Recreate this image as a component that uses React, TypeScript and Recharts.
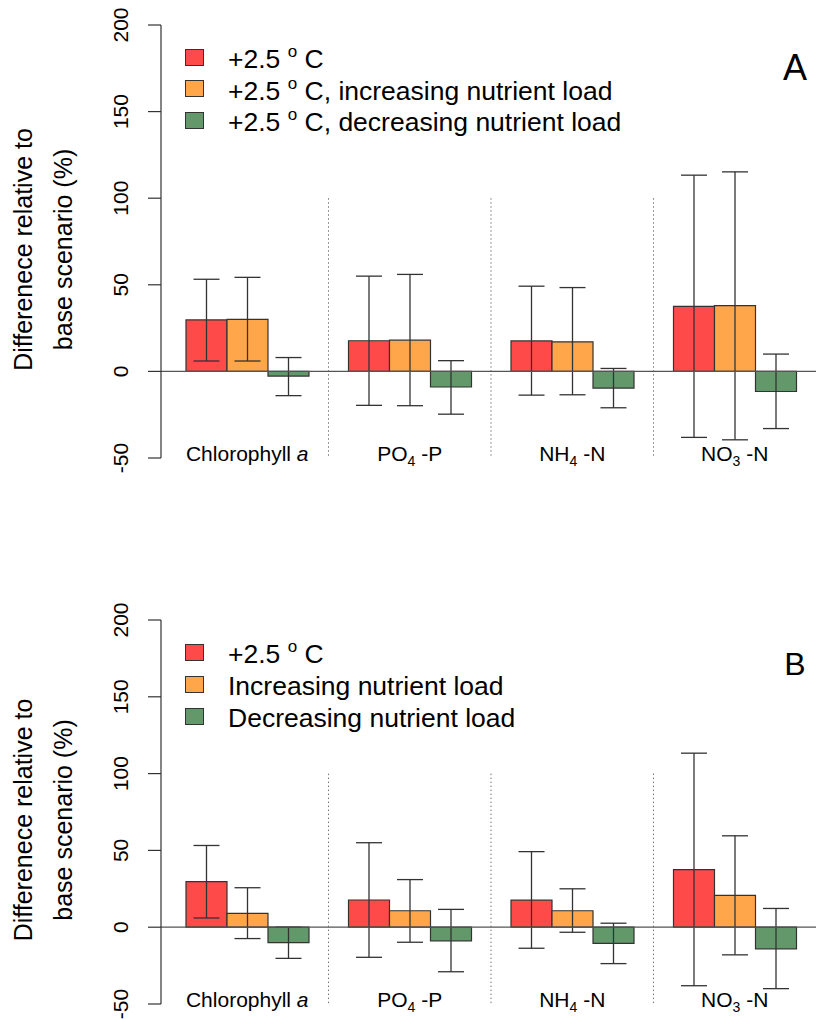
import React from "react";
import { BarChart, Bar, XAxis, YAxis, ErrorBar, ReferenceLine, Legend } from "recharts";

const font = "'Liberation Sans', Arial, Helvetica, sans-serif";
const colors = ["#ff4a4a", "#ffa64a", "#63996a"];

const categories = ["Chlorophyll a", "PO4 -P", "NH4 -N", "NO3 -N"];
const yTicks = [-50, 0, 50, 100, 150, 200];

// +2.5 °C only (same scenario in both panels)
const warm = [29.7, 17.7, 17.6, 37.5];
const warmLow = [6, -19.6, -13.7, -38.1];
const warmHigh = [53.2, 55, 49.2, 113.3];

// panel A: warming combined with nutrient load change
const warmIncA = [30, 18, 17.1, 38];
const warmIncALow = [6, -19.8, -13.5, -39.5];
const warmIncAHigh = [54.3, 56, 48.4, 115.2];
const warmDecA = [-2.7, -9, -9.6, -11.6];
const warmDecALow = [-14, -24.7, -21, -33];
const warmDecAHigh = [8, 6.2, 1.7, 10];

// panel B: nutrient load change alone
const incB = [9, 10.7, 10.7, 20.7];
const incBLow = [-7.4, -9.8, -3.3, -18];
const incBHigh = [25.7, 31, 25, 59.5];
const decB = [-10, -8.9, -10.5, -14.1];
const decBLow = [-20.3, -29, -23.7, -40];
const decBHigh = [0, 11.6, 2.6, 12.2];

const namesA = ["+2.5 °C", "+2.5 °C, increasing nutrient load", "+2.5 °C, decreasing nutrient load"];
const namesB = ["+2.5 °C", "Increasing nutrient load", "Decreasing nutrient load"];

type Series = { value: number[]; low: number[]; high: number[] };

const makeRows = (series: Series[]) =>
  categories.map((cat, i) => {
    const row: any = { cat };
    series.forEach((s, k) => {
      row[`v${k}`] = s.value[i];
      // ErrorBar wants distances below / above the bar value
      row[`e${k}`] = [s.value[i] - s.low[i], s.high[i] - s.value[i]];
    });
    return row;
  });

const rowsA = makeRows([
  { value: warm, low: warmLow, high: warmHigh },
  { value: warmIncA, low: warmIncALow, high: warmIncAHigh },
  { value: warmDecA, low: warmDecALow, high: warmDecAHigh },
]);
const rowsB = makeRows([
  { value: warm, low: warmLow, high: warmHigh },
  { value: incB, low: incBLow, high: incBHigh },
  { value: decB, low: decBLow, high: decBHigh },
]);

const CatTick = (props: any) => {
  const { x, y, payload } = props;
  const label: string = payload.value;
  const chem = /^([A-Z]+)(\d)(.*)$/.exec(label);
  let content: React.ReactNode = label;
  if (chem) {
    content = (
      <>
        <tspan>{chem[1]}</tspan>
        <tspan fontSize={14} dy={5}>{chem[2]}</tspan>
        <tspan dy={-5}>{chem[3]}</tspan>
      </>
    );
  } else if (label.endsWith(" a")) {
    content = (
      <>
        <tspan>{label.slice(0, -1)}</tspan>
        <tspan fontStyle="italic">a</tspan>
      </>
    );
  }
  return (
    <text x={x} y={y + 3} textAnchor="middle" fontSize={21} fill="#000" fontFamily={font}>
      {content}
    </text>
  );
};

const YTick = (props: any) => {
  const { x, y, payload } = props;
  return (
    <text transform={`translate(${x - 18},${y}) rotate(-90)`} textAnchor="middle" fontSize={21} fill="#000" fontFamily={font}>
      {payload.value}
    </text>
  );
};

const YTitle = (props: any) => {
  const vb = props.viewBox || { x: 0, y: 0, width: 161, height: 400 };
  const cy = vb.y + vb.height / 2 + 8;
  return (
    <g fontSize={25} fill="#000" fontFamily={font} textAnchor="middle">
      <text transform={`translate(32,${cy}) rotate(-90)`}>Differenece relative to</text>
      <text transform={`translate(72,${cy}) rotate(-90)`}>base scenario (%)</text>
    </g>
  );
};

const Degree = ({ text }: { text: string }) => {
  const parts = text.split("°C");
  if (parts.length < 2) return <>{text}</>;
  return (
    <>
      {parts[0]}
      <span style={{ fontSize: 17, position: "relative", top: -11 }}>o</span>
      {" C" + parts[1]}
    </>
  );
};

const LegendBox = ({ names, letter, letterSize, letterTop, rowHeight }: any) => (
  <div style={{ position: "relative", fontFamily: font, color: "#000" }}>
    {names.map((n: string, i: number) => (
      <div key={n} style={{ display: "flex", alignItems: "center", height: rowHeight }}>
        <div
          style={{
            width: 19,
            height: 17,
            background: colors[i],
            border: "1px solid #333",
            boxSizing: "border-box",
            marginRight: 24,
          }}
        />
        <span style={{ fontSize: 26.5, lineHeight: 1, position: "relative", top: 2, whiteSpace: "nowrap" }}>
          <Degree text={n} />
        </span>
      </div>
    ))}
    <span
      style={{
        position: "absolute",
        left: 590,
        top: letterTop,
        width: 40,
        textAlign: "center",
        fontSize: letterSize,
        lineHeight: 1,
      }}
    >
      {letter}
    </span>
  </div>
);

function Panel({ rows, names, letter, height, plotTop, axisHeight, legendTop, rowHeight, letterSize, letterTop }: any) {
  return (
    <BarChart
      width={816}
      height={height}
      data={rows}
      margin={{ top: plotTop, right: 0, bottom: 0, left: 0 }}
      barCategoryGap={20}
      barGap={0}
    >
      <XAxis
        dataKey="cat"
        height={axisHeight}
        padding={{ left: 5, right: 0 }}
        axisLine={false}
        tickLine={false}
        tickSize={0}
        tickMargin={0}
        interval={0}
        tick={<CatTick />}
      />
      <YAxis
        domain={[-50, 200]}
        ticks={yTicks}
        interval={0}
        width={161}
        tickSize={13}
        tickMargin={2}
        axisLine={{ stroke: "#333", strokeWidth: 1.2 }}
        tickLine={{ stroke: "#333", strokeWidth: 1.2 }}
        tick={<YTick />}
        label={{ content: (p: any) => <YTitle viewBox={p.viewBox} /> }}
      />
      <Legend
        layout="horizontal"
        verticalAlign="middle"
        align="center"
        wrapperStyle={{ left: 185, top: legendTop, width: 640, height: 110 }}
        content={() => (
          <LegendBox names={names} letter={letter} letterSize={letterSize} letterTop={letterTop} rowHeight={rowHeight} />
        )}
      />
      {categories.slice(1).map((c) => (
        <ReferenceLine
          key={c}
          segment={[
            { x: c, y: 100 },
            { x: c, y: -50 },
          ]}
          position="start"
          stroke="#777"
          strokeWidth={1}
          strokeDasharray="1.5 2.5"
        />
      ))}
      {names.map((n: string, k: number) => (
        <Bar
          key={n}
          dataKey={`v${k}`}
          name={n}
          fill={colors[k]}
          stroke="#333"
          strokeWidth={1.2}
          isAnimationActive={false}
        >
          <ErrorBar dataKey={`e${k}`} width={13} stroke="#333" strokeWidth={1.3} direction="y" isAnimationActive={false} />
        </Bar>
      ))}
      <ReferenceLine y={0} stroke="#555" strokeWidth={1.3} />
    </BarChart>
  );
}

export default function App() {
  return (
    <div
      style={{
        position: "absolute",
        left: 0,
        top: 0,
        width: 816,
        height: 1019,
        overflow: "hidden",
        background: "#fff",
      }}
    >
      <div style={{ position: "absolute", left: 0, top: 0 }}>
        <Panel
          rows={rowsA}
          names={namesA}
          letter="A"
          height={500}
          plotTop={25}
          axisHeight={42}
          legendTop={42}
          rowHeight={31.3}
          letterSize={36}
          letterTop={8}
        />
      </div>
      <div style={{ position: "absolute", left: 0, top: 500 }}>
        <Panel
          rows={rowsB}
          names={namesB}
          letter="B"
          height={519}
          plotTop={120}
          axisHeight={15}
          legendTop={136}
          rowHeight={32}
          letterSize={32}
          letterTop={12}
        />
      </div>
    </div>
  );
}
